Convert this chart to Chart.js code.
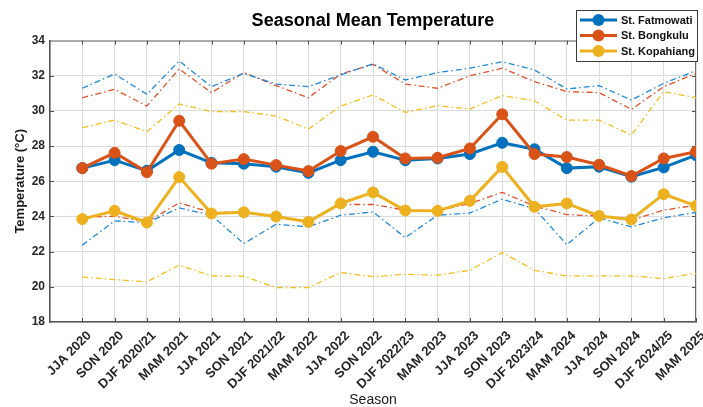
<!DOCTYPE html>
<html>
<head>
<meta charset="utf-8">
<script src="https://cdn.jsdelivr.net/npm/chart.js@4/dist/chart.umd.min.js"></script>
<style>
  html, body { margin: 0; padding: 0; background: #ffffff; }
  #wrap { width: 703px; height: 407px; }
</style>
</head>
<body>
<div id="wrap"><canvas id="c" width="703" height="407"></canvas></div>
<script>
// Season labels (x axis)
const seasons = ['JJA 2020','SON 2020','DJF 2020/21','MAM 2021','JJA 2021','SON 2021','DJF 2021/22','MAM 2022','JJA 2022','SON 2022','DJF 2022/23','MAM 2023','JJA 2023','SON 2023','DJF 2023/24','MAM 2024','JJA 2024','SON 2024','DJF 2024/25','MAM 2025'];

// Station names
const stations = ['St. Fatmowati', 'St. Bongkulu', 'St. Kopahiang'];

// Seasonal mean temperature (°C)
const fatmowatiMean = [26.75, 27.2, 26.6, 27.78, 27.05, 27.0, 26.83, 26.48, 27.2, 27.68, 27.2, 27.3, 27.55, 28.19, 27.82, 26.75, 26.83, 26.26, 26.79, 27.49];
const bongkuluMean  = [26.75, 27.62, 26.52, 29.44, 27.0, 27.26, 26.92, 26.58, 27.72, 28.53, 27.3, 27.34, 27.87, 29.81, 27.55, 27.38, 26.94, 26.3, 27.3, 27.68];
const kopahiangMean = [23.85, 24.32, 23.66, 26.24, 24.17, 24.24, 24.0, 23.69, 24.74, 25.37, 24.34, 24.32, 24.89, 26.82, 24.55, 24.74, 24.03, 23.83, 25.27, 24.6];

// Seasonal maximum temperature (°C)
const fatmowatiMax = [31.29, 32.1, 30.95, 32.84, 31.38, 32.14, 31.53, 31.38, 32.05, 32.68, 31.76, 32.18, 32.43, 32.8, 32.33, 31.25, 31.44, 30.62, 31.57, 32.29];
const bongkuluMax  = [30.75, 31.23, 30.28, 32.39, 31.04, 32.18, 31.44, 30.75, 32.1, 32.65, 31.53, 31.29, 32.0, 32.43, 31.67, 31.1, 31.04, 30.09, 31.38, 32.14];
const kopahiangMax = [29.05, 29.48, 28.82, 30.4, 29.96, 29.96, 29.71, 28.97, 30.28, 30.91, 29.92, 30.3, 30.11, 30.87, 30.58, 29.48, 29.48, 28.63, 31.1, 30.75];

// Seasonal minimum temperature (°C)
const fatmowatiMin = [22.37, 23.75, 23.64, 24.49, 24.07, 22.46, 23.56, 23.41, 24.07, 24.26, 22.8, 24.07, 24.2, 24.98, 24.45, 22.4, 23.92, 23.41, 23.92, 24.23];
const bongkuluMin  = [23.95, 24.02, 23.69, 24.77, 24.23, 24.23, 24.02, 23.75, 24.68, 24.68, 24.36, 24.32, 24.74, 25.37, 24.59, 24.11, 24.02, 23.79, 24.36, 24.64];
const kopahiangMin = [20.56, 20.41, 20.28, 21.23, 20.62, 20.6, 19.96, 19.96, 20.81, 20.58, 20.71, 20.66, 20.94, 21.95, 20.94, 20.62, 20.62, 20.62, 20.47, 20.77];

// Y axis range and tick step
const yMin = 18, yMax = 34, yStep = 2;

const FONT = '"Liberation Sans", Arial, Helvetica, sans-serif';
const colors = ['#0072BD', '#D95319', '#EDB120'];
const rangeColors = ['#1f88d8', '#e2502a', '#f2bf1c'];

const toXY = arr => arr.map((v, i) => ({ x: i + 1, y: v }));

function meanSet(label, arr, color, order) {
  return {
    label, data: toXY(arr), borderColor: color, backgroundColor: color,
    borderWidth: 3, pointRadius: 5.5, pointHoverRadius: 5.5,
    pointBackgroundColor: color, pointBorderColor: color, pointBorderWidth: 1,
    tension: 0, order
  };
}
function rangeSet(label, arr, color) {
  return {
    label, data: toXY(arr), borderColor: color, backgroundColor: color,
    borderWidth: 1.3, borderDash: [6, 3, 1.5, 3], pointRadius: 0,
    tension: 0, order: 10
  };
}

// Box outline and inward tick marks
const axesBox = {
  id: 'axesBox',
  beforeDatasetsDraw(chart) {
    const { ctx, chartArea: a, scales: { x, y } } = chart;
    ctx.save();
    ctx.strokeStyle = '#4d4d4d';
    ctx.lineWidth = 1;
    ctx.beginPath();
    for (let i = 1; i < seasons.length + 1; i++) {
      const px = Math.round(x.getPixelForValue(i)) + 0.5;
      ctx.moveTo(px, a.bottom); ctx.lineTo(px, a.bottom - 4);
      ctx.moveTo(px, a.top); ctx.lineTo(px, a.top + 4);
    }
    for (let v = yMin + yStep; v < yMax; v += yStep) {
      const py = Math.round(y.getPixelForValue(v)) + 0.5;
      ctx.moveTo(a.left, py); ctx.lineTo(a.left + 4, py);
      ctx.moveTo(a.right, py); ctx.lineTo(a.right - 4, py);
    }
    ctx.stroke();
    ctx.strokeStyle = '#6a6a6a';
    ctx.beginPath();
    ctx.moveTo(a.left, a.top + 0.5); ctx.lineTo(a.right, a.top + 0.5);
    ctx.moveTo(a.right - 0.5, a.top); ctx.lineTo(a.right - 0.5, a.bottom);
    ctx.stroke();
    ctx.restore();
  }
};

// Legend box in the upper right corner
const boxLegend = {
  id: 'boxLegend',
  afterDraw(chart) {
    const { ctx } = chart;
    const bx = 576.5, by = 10.5, bw = 121, bh = 51;
    ctx.save();
    ctx.fillStyle = '#ffffff';
    ctx.fillRect(bx, by, bw, bh);
    ctx.strokeStyle = '#3a3a3a';
    ctx.lineWidth = 1;
    ctx.strokeRect(bx, by, bw, bh);
    const rows = [20, 35.5, 51];
    stations.forEach((name, i) => {
      const yy = rows[i];
      ctx.strokeStyle = colors[i];
      ctx.lineWidth = 3;
      ctx.beginPath();
      ctx.moveTo(580, yy); ctx.lineTo(617, yy);
      ctx.stroke();
      ctx.fillStyle = colors[i];
      ctx.beginPath();
      ctx.arc(598.5, yy, 6, 0, Math.PI * 2);
      ctx.fill();
      ctx.fillStyle = '#111111';
      ctx.font = 'bold 11px ' + FONT;
      ctx.textBaseline = 'middle';
      ctx.textAlign = 'left';
      ctx.fillText(name, 621, yy + 0.5);
    });
    ctx.restore();
  }
};

new Chart(document.getElementById('c'), {
  type: 'line',
  data: {
    datasets: [
      meanSet(stations[2], kopahiangMean, colors[2], 0),
      meanSet(stations[1], bongkuluMean, colors[1], 1),
      meanSet(stations[0], fatmowatiMean, colors[0], 2),
      rangeSet(stations[0] + ' max', fatmowatiMax, rangeColors[0]),
      rangeSet(stations[1] + ' max', bongkuluMax, rangeColors[1]),
      rangeSet(stations[2] + ' max', kopahiangMax, rangeColors[2]),
      rangeSet(stations[0] + ' min', fatmowatiMin, rangeColors[0]),
      rangeSet(stations[1] + ' min', bongkuluMin, rangeColors[1]),
      rangeSet(stations[2] + ' min', kopahiangMin, rangeColors[2])
    ]
  },
  options: {
    responsive: false,
    animation: false,
    devicePixelRatio: 1,
    layout: { padding: { left: 0, right: 7, top: 0, bottom: 0 } },
    plugins: {
      legend: { display: false },
      tooltip: { enabled: false },
      title: {
        display: true,
        fullSize: false,
        text: 'Seasonal Mean Temperature',
        color: '#000000',
        font: { family: FONT, size: 18, weight: 'bold' },
        padding: { top: 10, bottom: 9 }
      }
    },
    scales: {
      x: {
        type: 'linear',
        min: 0, max: seasons.length,
        afterBuildTicks: s => { s.ticks = Array.from({ length: seasons.length + 1 }, (_, i) => ({ value: i })); },
        afterFit: s => { s.height = 85; s.paddingLeft = 0; s.paddingRight = 0; },
        ticks: {
          autoSkip: false, maxRotation: 45, minRotation: 45,
          callback: v => seasons[v - 1] || '',
          color: '#262626',
          font: { family: FONT, size: 13, weight: 'bold' },
          padding: 6,
          labelOffset: 7
        },
        grid: { color: '#dcdcdc', lineWidth: 1, drawTicks: false },
        border: { color: '#555555', width: 1.5 },
        title: {
          display: true, text: 'Season', color: '#1a1a1a',
          font: { family: FONT, size: 14, lineHeight: 1 },
          padding: { top: 0, bottom: 0 }
        }
      },
      y: {
        min: yMin, max: yMax,
        afterFit: s => { s.width = 50; },
        ticks: {
          stepSize: yStep,
          color: '#262626',
          font: { family: FONT, size: 12, weight: 'bold' },
          padding: 5
        },
        grid: { color: '#dcdcdc', lineWidth: 1, drawTicks: false },
        border: { color: '#555555', width: 1.5 },
        title: {
          display: true, text: 'Temperature (°C)', color: '#1a1a1a',
          font: { family: FONT, size: 13, weight: 'bold' },
          padding: { top: 13, bottom: 0 }
        }
      }
    }
  },
  plugins: [axesBox, boxLegend]
});
</script>
</body>
</html>
